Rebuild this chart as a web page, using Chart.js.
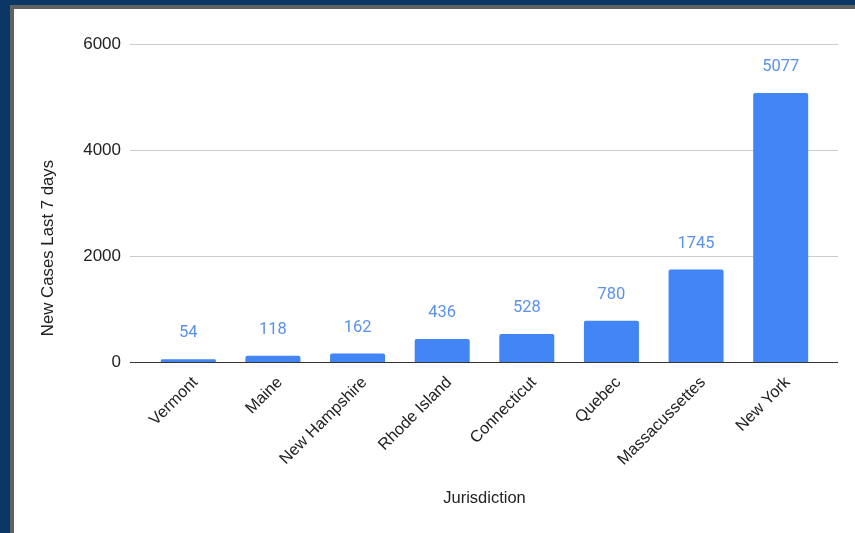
<!DOCTYPE html>
<html>
<head>
<meta charset="utf-8">
<script src="https://cdn.jsdelivr.net/npm/chart.js@4/dist/chart.umd.min.js"></script>
<style>
  html, body { margin: 0; padding: 0; width: 855px; height: 533px; overflow: hidden; background: #0a3763; }
  #panel { position: absolute; left: 10px; top: 5px; width: 841px; height: 524px; background: #fff;
           border-left: 4px solid #5f6163; border-top: 4px solid #5f6163; }
  #wrap { position: absolute; left: 0; top: 0; width: 855px; height: 533px; }
</style>
</head>
<body>
<div id="panel"></div>
<div id="wrap"><canvas id="c" width="855" height="533"></canvas></div>
<script>
const categories = ["Vermont", "Maine", "New Hampshire", "Rhode Island", "Connecticut", "Quebec", "Massacussettes", "New York"];
const newCases = [54, 118, 162, 436, 528, 780, 1745, 5077];
const yTicks = [0, 2000, 4000, 6000];
const yTitle = "New Cases Last 7 days";
const xTitle = "Jurisdiction";

const gridPlugin = {
  id: 'extGrid',
  beforeDatasetsDraw(chart) {
    const {ctx, chartArea, scales} = chart;
    const y = scales.y;
    ctx.save();
    yTicks.forEach(v => {
      const py = Math.round(y.getPixelForValue(v)) + 0.5;
      ctx.beginPath();
      ctx.strokeStyle = v === 0 ? '#333333' : '#cccccc';
      ctx.lineWidth = 1;
      ctx.moveTo(chartArea.left - 16, py);
      ctx.lineTo(chartArea.right + 15, py);
      ctx.stroke();
    });
    ctx.restore();
  },
  afterDatasetsDraw(chart) {
    const {ctx} = chart;
    const meta = chart.getDatasetMeta(0);
    ctx.save();
    ctx.fillStyle = '#5a92ea';
    ctx.font = '16.5px Roboto';
    ctx.textAlign = 'center';
    ctx.textBaseline = 'middle';
    meta.data.forEach((bar, i) => {
      ctx.fillText(String(newCases[i]), bar.x, bar.y - 26);
    });
    // y axis title
    ctx.fillStyle = '#222222';
    ctx.font = '16.8px "Liberation Sans", Arial, sans-serif';
    ctx.translate(48, 248);
    ctx.rotate(-Math.PI / 2);
    ctx.fillText(yTitle, 0, 0);
    ctx.restore();
  }
};

new Chart(document.getElementById('c'), {
  type: 'bar',
  data: {
    labels: categories,
    datasets: [{
      data: newCases,
      backgroundColor: '#4285f4',
      borderRadius: {topLeft: 2, topRight: 2, bottomLeft: 0, bottomRight: 0},
      borderSkipped: 'start',
      categoryPercentage: 1,
      barPercentage: 0.65
    }]
  },
  options: {
    responsive: false,
    animation: false,
    devicePixelRatio: 1,
    layout: { padding: { top: 44, right: 32, left: 0, bottom: 0 } },
    plugins: { legend: { display: false }, tooltip: { enabled: false } },
    scales: {
      x: {
        grid: { display: false },
        border: { display: false },
        ticks: {
          autoSkip: false, minRotation: 45, maxRotation: 45, padding: 3, labelOffset: 7,
          color: '#222222', font: { family: '"Liberation Sans", Arial, sans-serif', size: 16.3 }
        },
        title: {
          display: true, text: xTitle, color: '#222222',
          font: { family: '"Liberation Sans", Arial, sans-serif', size: 16.5 },
          padding: { top: 0, bottom: 25 }
        },
        afterFit(scale) { scale.height = 171; }
      },
      y: {
        min: 0, max: 6000,
        grid: { display: false },
        border: { display: false },
        afterBuildTicks(scale) { scale.ticks = yTicks.map(v => ({ value: v })); },
        ticks: {
          padding: 17, color: '#222222',
          font: { family: '"Liberation Sans", Arial, sans-serif', size: 17 },
          callback: (v) => String(v)
        },
        afterFit(scale) { scale.width = 146; }
      }
    }
  },
  plugins: [gridPlugin]
});
</script>
</body>
</html>
